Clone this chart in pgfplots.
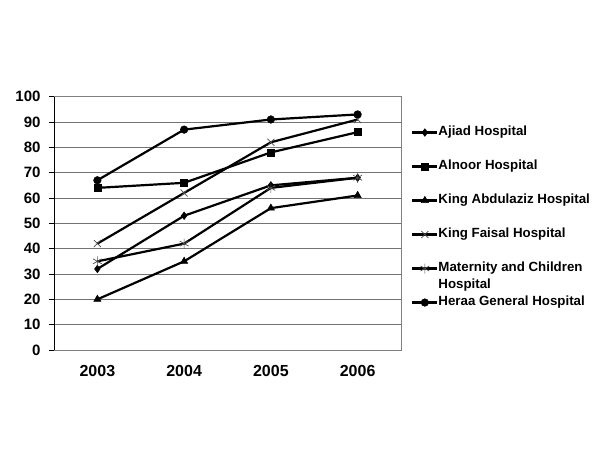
\documentclass[border=0pt]{standalone}
\usepackage{pgfplots}
\pgfplotsset{compat=1.18}
\usepackage{fontspec}
\setmainfont{Liberation Sans}
\usetikzlibrary{plotmarks}
\begin{document}
\begin{tikzpicture}[x=1pt,y=1pt]
\path[use as bounding box] (0,0) rectangle (600,450);
\begin{axis}[
  at={(54pt,100pt)}, anchor=south west,
  scale only axis, width=347pt, height=253.3pt,
  xmin=-0.5, xmax=3.5, ymin=0, ymax=100,
  xtick={0,1,2,3}, xticklabels={2003,2004,2005,2006},
  major x tick style={draw=none},
  extra x ticks={-0.5,0.5,1.5,2.5,3.5},
  extra x tick labels={},
  extra x tick style={major tick length=5pt, tick align=outside, tick style={black, line width=0.8pt}, grid=none},
  ytick={0,10,...,100}, ytick pos=left,
  ymajorgrids, grid style={black!55, line width=0.8pt},
  tick align=outside, major tick length=5pt,
  ytick style={black, line width=0.8pt},
  axis line style={draw=black!50, line width=0.8pt},
  /pgf/number format/assume math mode=true,
  x tick label style={font=\fontsize{16}{18}\selectfont\bfseries, yshift=-7pt},
  y tick label style={font=\fontsize{15}{17}\selectfont\bfseries, xshift=-5pt},
  legend cell align=left,
  legend style={at={(1.029,0.883)}, anchor=north west, draw=none, fill=none,
    inner sep=0pt, row sep=22pt, column sep=0pt,
    nodes={inner sep=0pt, text height=9pt, text depth=3pt, font=\fontsize{13.3}{15.5}\selectfont\bfseries}},
  legend image code/.code={\draw[mark repeat=2,mark phase=2,#1] plot coordinates {(0pt,0pt) (12.5pt,0pt) (25pt,0pt)};},
  every axis plot/.append style={line width=2.2pt, black},
]
\addplot[black, line width=2.2pt, mark=diamond*, mark size=3.8pt, mark options={solid, line width=0.5pt}] coordinates {(0,32) (1,53) (2,65) (3,68)};
\addlegendentry{Ajiad Hospital}
\addplot[black, line width=2.2pt, mark=square*, mark size=3.5pt, mark options={solid, line width=0.5pt}] coordinates {(0,64) (1,66) (2,78) (3,86)};
\addlegendentry{Alnoor Hospital}
\addplot[black, line width=2.2pt, mark=triangle*, mark size=4.2pt, mark options={solid, line width=0.5pt}] coordinates {(0,20) (1,35) (2,56) (3,61)};
\addlegendentry{King Abdulaziz Hospital}
\addplot[black, line width=2.2pt, mark=x, mark size=5pt, mark options={solid, line width=0.7pt, black!70}] coordinates {(0,42) (1,62) (2,82) (3,91)};
\addlegendentry{King Faisal Hospital}
\addplot[black, line width=2.2pt, mark=asterisk, mark size=5pt, mark options={solid, line width=0.7pt, black!70}] coordinates {(0,35) (1,42) (2,64) (3,68)};
\addlegendentry{\smash{\begin{tabular}[t]{@{}l@{}}Maternity and Children\\[1pt]Hospital\end{tabular}}}
\addplot[black, line width=2.2pt, mark=*, mark size=3.8pt, mark options={solid, line width=0.5pt}] coordinates {(0,67) (1,87) (2,91) (3,93)};
\addlegendentry{Heraa General Hospital}
\draw[black, line width=0.8pt] (rel axis cs:0,0) -- (rel axis cs:0,1);
\draw[black, line width=0.8pt] (rel axis cs:0,0) -- (rel axis cs:1,0);
\end{axis}
\end{tikzpicture}
\end{document}
